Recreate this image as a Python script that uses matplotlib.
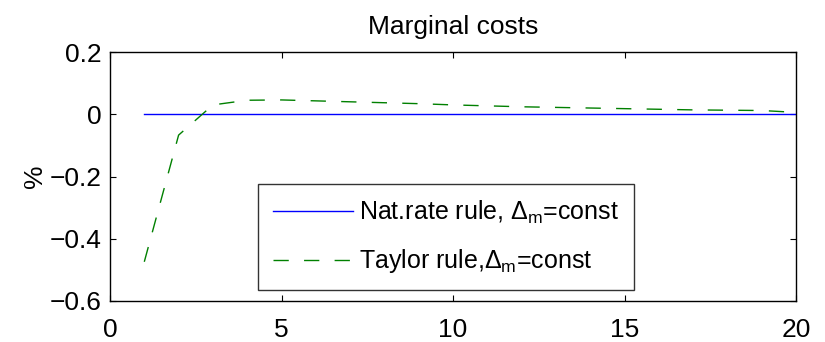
import matplotlib
matplotlib.use("Agg")
import matplotlib.pyplot as plt
import numpy as np

plt.rcParams['font.family'] = ['Liberation Sans', 'DejaVu Sans']
plt.rcParams['mathtext.fontset'] = 'custom'
plt.rcParams['mathtext.rm'] = 'Liberation Sans'
plt.rcParams['mathtext.it'] = 'Liberation Sans'
plt.rcParams['mathtext.sf'] = 'Liberation Sans'

periods = list(range(1, 21))
nat_rate = [0.0] * 20
taylor = [-0.474, -0.067, 0.030, 0.045, 0.046, 0.043, 0.040, 0.037, 0.034, 0.030,
          0.027, 0.024, 0.022, 0.020, 0.018, 0.016, 0.014, 0.013, 0.012, 0.006]
xticks = [0, 5, 10, 15, 20]
yticks = [-0.6, -0.4, -0.2, 0, 0.2]
ytick_labels = ['\u22120.6', '\u22120.4', '\u22120.2', '0', '0.2']

title = 'Marginal costs'
ylabel = '%'
label_nat = r'Nat.rate rule, $\Delta_\mathrm{m}$=const'
label_taylor = r'Taylor rule,$\Delta_\mathrm{m}$=const'

fig = plt.figure(figsize=(8.25, 3.42), dpi=100)
ax = fig.add_axes([110/825, 1-301/342, (796-110)/825, (301-52)/342])

ax.plot(periods, nat_rate, color='#0000ff', lw=1.0, label=label_nat)
ax.plot(periods, taylor, color='#008000', lw=1.0, dashes=(11, 11), label=label_taylor)

ax.set_xlim(0, 20)
ax.set_ylim(-0.6, 0.2)
ax.set_xticks(xticks)
ax.set_xticklabels([str(t) for t in xticks])
ax.set_yticks(yticks)
ax.set_yticklabels(ytick_labels)
ax.tick_params(direction='in', length=4, width=0.8, top=True, right=True,
               labelsize=19)
ax.tick_params(axis='x', pad=12)
ax.tick_params(axis='y', pad=6)
for s in ax.spines.values():
    s.set_linewidth(1.0)

ax.set_title(title, fontsize=19, pad=13)
ax.set_ylabel(ylabel, fontsize=19, labelpad=2)

leg = ax.legend(loc='upper left', bbox_to_anchor=(0.216, 0.47), fontsize=18,
                handlelength=3.2, handletextpad=0.25, labelspacing=0.85,
                borderpad=0.6, fancybox=False, frameon=True, borderaxespad=0)
leg.get_frame().set_edgecolor('black')
leg.get_frame().set_linewidth(1.0)

fig.savefig('out.png', dpi=100)
